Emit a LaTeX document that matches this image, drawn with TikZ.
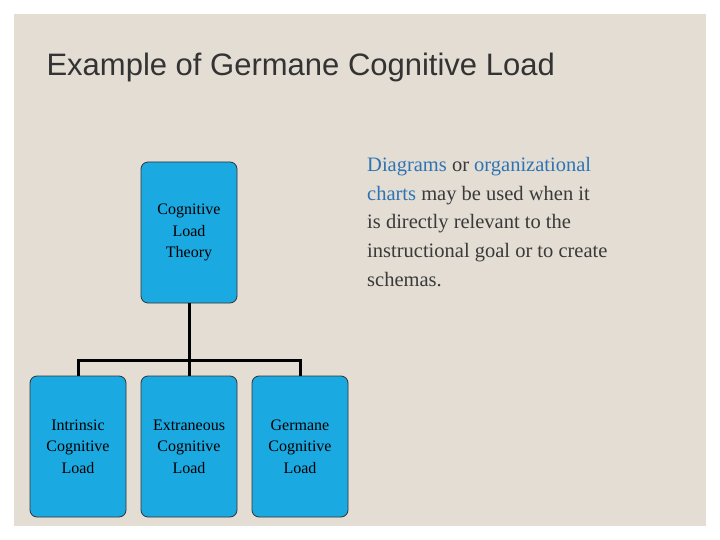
\documentclass[tikz,border=0pt]{standalone}
\usepackage{fontspec}
\setmainfont{Liberation Serif}
\newfontfamily\titlefont{Liberation Sans}
\definecolor{bg}{HTML}{E3DDD3}
\definecolor{boxc}{HTML}{1BA9E1}
\definecolor{txt}{HTML}{3A3A3A}
\definecolor{hl}{HTML}{2E74B5}
\begin{document}
\begin{tikzpicture}[x=1pt,y=-1pt,
  box/.style={draw=black!80,line width=0.8pt,fill=boxc,rounded corners=7pt,minimum width=96pt,minimum height=141pt,inner sep=0pt,align=center,font=\fontsize{16}{21.5}\selectfont},
  conn/.style={line width=3pt,black}]
\useasboundingbox (0,0) rectangle (720,540);
\fill[white] (0,0) rectangle (720,540);
\fill[bg] (14,14) rectangle (706,526);
\node[anchor=west,font=\titlefont\fontsize{31}{36}\selectfont,text=black!80] (title) at (43,67) {Example of Germane Cognitive Load};
\node[box] (top) at (189,232.5) {Cognitive\\Load\\Theory};
\node[box] (b1) at (78,446.5) {Intrinsic\\Cognitive\\Load};
\node[box] (b2) at (189,446.5) {Extraneous\\Cognitive\\Load};
\node[box] (b3) at (300,446.5) {Germane\\Cognitive\\Load};
\coordinate (j) at (189,360);
\draw[conn] (top.south) -- (j);
\draw[conn] (b1.north) |- (j) -| (b3.north);
\draw[conn] (j) -- (b2.north);
\node[anchor=north west,align=left,text=txt,inner sep=0pt,font=\fontsize{20.5}{28.7}\selectfont] (desc) at (367,157)
{\textcolor{hl}{Diagrams} or \textcolor{hl}{organizational}\\\textcolor{hl}{charts} may be used when it\\is directly relevant to the\\instructional goal or to create\\schemas.};
\end{tikzpicture}
\end{document}
